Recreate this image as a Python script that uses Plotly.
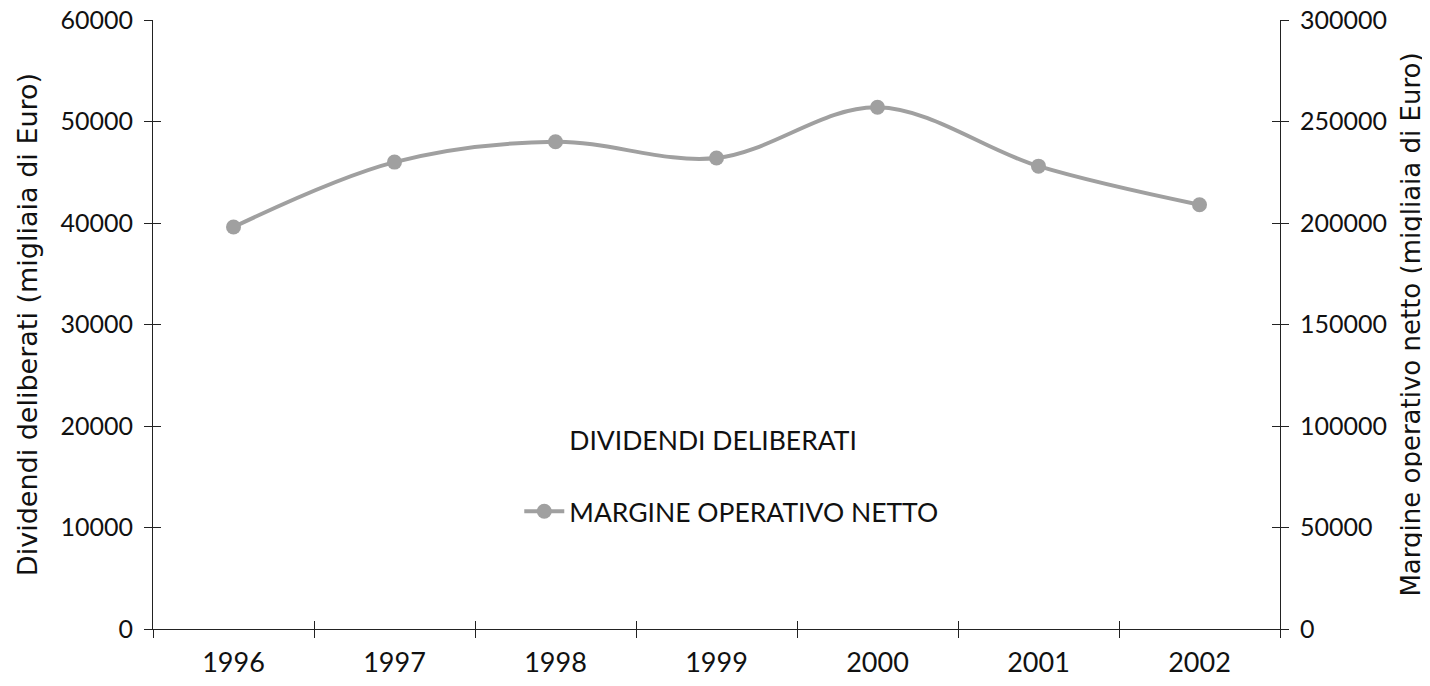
import plotly.graph_objects as go

years = ["1996", "1997", "1998", "1999", "2000", "2001", "2002"]
margine = [198000, 230000, 240000, 232000, 257000, 228000, 209000]
dividendi = [None] * 7
left_ticks = [0, 10000, 20000, 30000, 40000, 50000, 60000]
right_ticks = [0, 50000, 100000, 150000, 200000, 250000, 300000]

gray = "#a0a0a0"
ytick_font = dict(family="Lato, Open Sans, sans-serif", size=25, color="#111111")
xtick_font = dict(family="Lato, Open Sans, sans-serif", size=27, color="#111111")
title_font_l = dict(family="DejaVu Sans, Verdana, sans-serif", size=27, color="#111111")
title_font_r = dict(family="DejaVu Sans, Verdana, sans-serif", size=26, color="#111111")

fig = go.Figure()
fig.add_trace(go.Bar(x=years, y=dividendi, name="DIVIDENDI DELIBERATI",
                     marker=dict(color="rgba(0,0,0,0)", line=dict(width=0)), yaxis="y",
                     legendgroup="a"))
fig.add_trace(go.Scatter(x=years, y=margine, name="MARGINE OPERATIVO NETTO",
                         mode="lines+markers", yaxis="y2",
                         line=dict(color=gray, width=4, shape="spline", smoothing=1.0),
                         marker=dict(color=gray, size=15),
                         legendgroup="b"))

axis_common = dict(showgrid=False, zeroline=False, linecolor="#222222", linewidth=1,
                   ticks="outside", ticklen=8, tickcolor="#222222", automargin=False,
                   ticklabeloverflow="allow")

fig.update_layout(
    width=1430, height=686,
    margin=dict(l=145, r=158, t=12, b=65),
    paper_bgcolor="white", plot_bgcolor="white",
    showlegend=True,
    legend=dict(x=0.325, y=0.252, xanchor="left", yanchor="middle",
                font=dict(family="Lato, Open Sans, sans-serif", size=26.5, color="#111111"),
                bgcolor="rgba(0,0,0,0)", tracegroupgap=34, itemwidth=40),
    xaxis=dict(type="category", range=[-0.5, 6.5], tickson="boundaries",
               showline=True, ticklabelstandoff=10, tickfont=xtick_font, **axis_common),
    yaxis=dict(range=[0, 60000], tickvals=left_ticks, ticktext=[str(v) for v in left_ticks],
               showline=True, ticklabelstandoff=6, tickfont=ytick_font,
               title=dict(text="Dividendi deliberati (migliaia di Euro)", font=title_font_l),
               **axis_common),
    yaxis2=dict(range=[0, 300000], tickvals=right_ticks, ticktext=[str(v) for v in right_ticks],
                overlaying="y", side="right", showline=True, ticklabelstandoff=6,
                tickfont=ytick_font,
                title=dict(text="Margine operativo netto (migliaia di Euro)", font=title_font_r),
                **axis_common),
    xaxis2=dict(type="category", range=[-0.5, 6.5], tickson="boundaries", overlaying="x",
                showline=False, showgrid=False, zeroline=False, ticks="inside", ticklen=8,
                tickcolor="#222222", showticklabels=False, side="bottom", automargin=False),
    yaxis3=dict(range=[0, 60000], tickvals=left_ticks, overlaying="y", showline=False,
                showgrid=False, zeroline=False, ticks="inside", ticklen=8,
                tickcolor="#222222", showticklabels=False, automargin=False),
    yaxis4=dict(range=[0, 300000], tickvals=right_ticks, overlaying="y", side="right",
                showline=False, showgrid=False, zeroline=False, ticks="inside", ticklen=8,
                tickcolor="#222222", showticklabels=False, automargin=False),
)
fig.add_trace(go.Scatter(x=years, y=dividendi, xaxis="x2", yaxis="y3", showlegend=False,
                         hoverinfo="skip", mode="lines"))
fig.add_trace(go.Scatter(x=years, y=dividendi, xaxis="x2", yaxis="y4", showlegend=False,
                         hoverinfo="skip", mode="lines"))

fig.write_html("out.html")
